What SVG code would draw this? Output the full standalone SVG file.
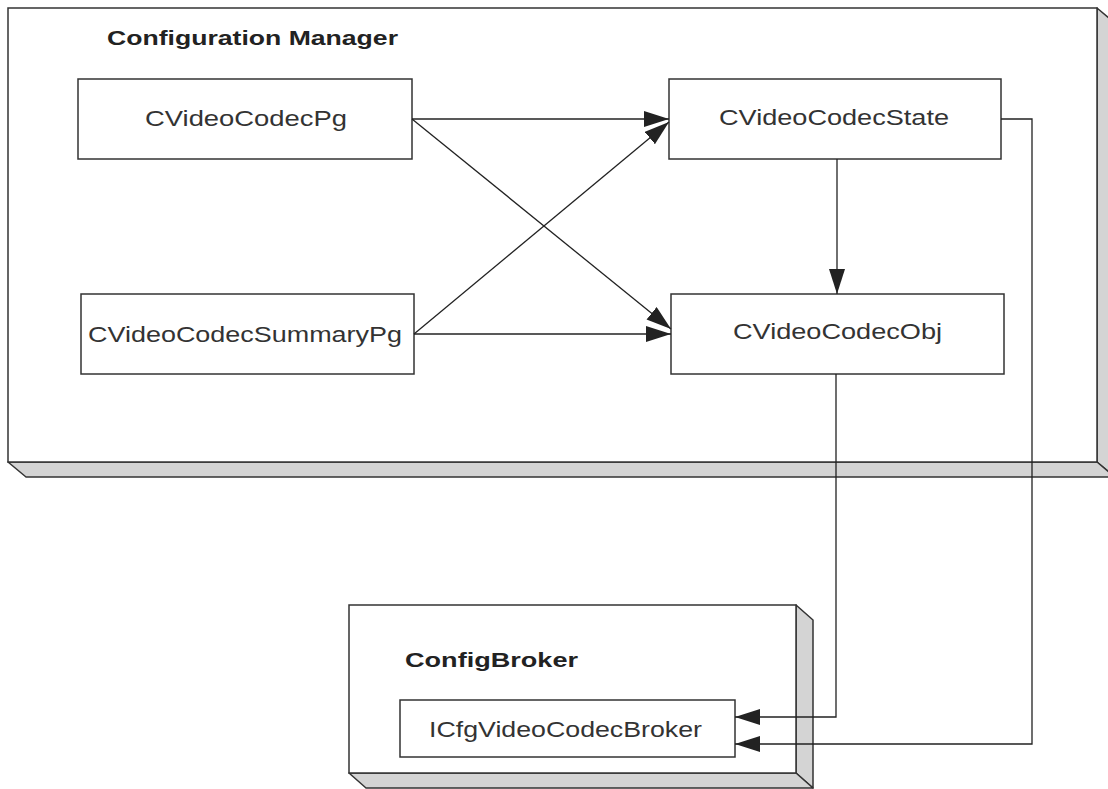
<svg xmlns="http://www.w3.org/2000/svg" width="1108" height="789" viewBox="0 0 1108 789">
<style>
.front{fill:#fff;stroke:#333;stroke-width:1.5}
.side{fill:#d4d4d4;stroke:#333;stroke-width:1.5;stroke-linejoin:round}
.box{fill:#fff;stroke:#333;stroke-width:1.5}
.lbl{font-family:"Liberation Sans",Arial,sans-serif;font-size:22px;fill:#333}
.title{font-family:"Liberation Sans",Arial,sans-serif;font-size:21px;font-weight:bold;fill:#222}
.conn{fill:none;stroke:#222;stroke-width:1.3}
</style>
<defs>
<marker id="arr" markerUnits="userSpaceOnUse" markerWidth="28" markerHeight="18" refX="25" refY="8" orient="auto">
<path d="M0,0 L25,8 L0,16 z" fill="#222"/>
</marker>
</defs>
<rect width="1108" height="789" fill="#fff"/>
<g id="configuration-manager">
<polygon class="side" points="1097,8 1115,23 1115,477 1097,462"/>
<polygon class="side" points="8,462 1097,462 1115,477 26,477"/>
<rect class="front" x="8" y="8" width="1089" height="454"/>
<text class="title" x="107" y="45" textLength="291" lengthAdjust="spacingAndGlyphs">Configuration Manager</text>
</g>
<g id="config-broker">
<polygon class="side" points="796,605 813,620 813,788 796,773"/>
<polygon class="side" points="349,773 796,773 813,788 366,788"/>
<rect class="front" x="349" y="605" width="447" height="168"/>
<text class="title" x="405" y="667" textLength="173" lengthAdjust="spacingAndGlyphs">ConfigBroker</text>
</g>
<g id="cvideocodecpg">
<rect class="box" x="78" y="79" width="334" height="80"/>
<text class="lbl" x="145" y="126" textLength="202" lengthAdjust="spacingAndGlyphs">CVideoCodecPg</text>
</g>
<g id="cvideocodecsummarypg">
<rect class="box" x="81" y="294" width="333" height="80"/>
<text class="lbl" x="88" y="342" textLength="314" lengthAdjust="spacingAndGlyphs">CVideoCodecSummaryPg</text>
</g>
<g id="cvideocodecstate">
<rect class="box" x="669" y="79" width="332" height="80"/>
<text class="lbl" x="719" y="125" textLength="230" lengthAdjust="spacingAndGlyphs">CVideoCodecState</text>
</g>
<g id="cvideocodecobj">
<rect class="box" x="671" y="294" width="333" height="80"/>
<text class="lbl" x="733" y="339" textLength="209" lengthAdjust="spacingAndGlyphs">CVideoCodecObj</text>
</g>
<g id="icfgvideocodecbroker">
<rect class="box" x="400" y="700" width="335" height="57"/>
<text class="lbl" x="429" y="737" textLength="273" lengthAdjust="spacingAndGlyphs">ICfgVideoCodecBroker</text>
</g>
<g id="connectors">
<line class="conn" x1="412" y1="119" x2="669" y2="119" marker-end="url(#arr)"/>
<line class="conn" x1="412" y1="119" x2="671" y2="329" marker-end="url(#arr)"/>
<line class="conn" x1="414" y1="334" x2="671" y2="334" marker-end="url(#arr)"/>
<line class="conn" x1="414" y1="334" x2="669" y2="122" marker-end="url(#arr)"/>
<line class="conn" x1="837" y1="159" x2="837" y2="294" marker-end="url(#arr)"/>
<polyline class="conn" points="836,374 836,717 735,717" marker-end="url(#arr)"/>
<polyline class="conn" points="1001,119 1032,119 1032,744 735,744" marker-end="url(#arr)"/>
</g>
</svg>
